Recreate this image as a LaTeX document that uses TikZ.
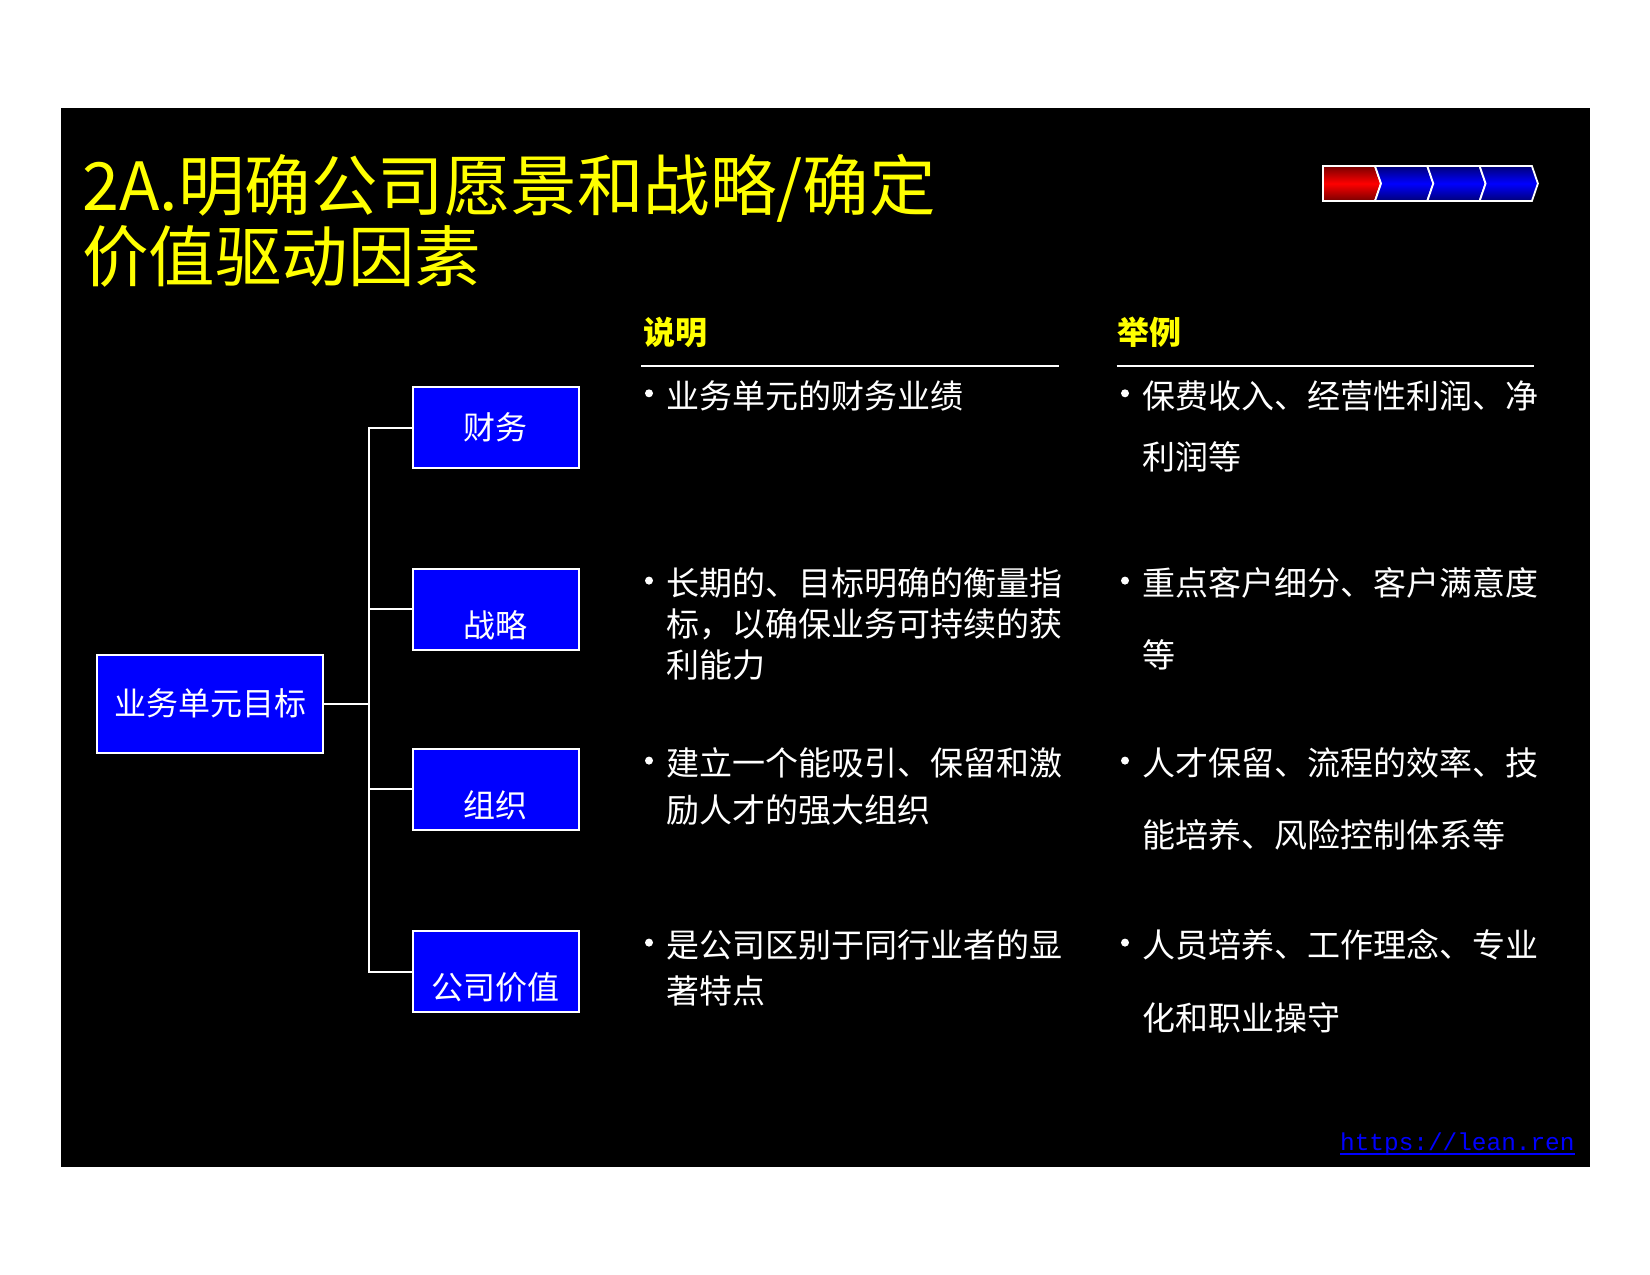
\documentclass[tikz,border=0pt]{standalone}
\usepackage{fontspec}
\newfontfamily\cjk{Noto Sans CJK SC}
\newfontfamily\lmono{Liberation Mono}
\definecolor{pblue}{RGB}{0,0,255}
\definecolor{tyellow}{RGB}{255,255,0}
\definecolor{dred}{RGB}{120,0,0}
\definecolor{dblue}{RGB}{0,0,120}
\begin{document}
\begin{tikzpicture}[x=1pt,y=-1pt,
  every node/.style={inner sep=0pt},
  titletext/.style={font=\cjk\fontsize{66.5}{72}\selectfont, text=tyellow, anchor=west, text height=58.5pt, text depth=8pt},
  headtext/.style={font=\cjk\bfseries\fontsize{32}{38}\selectfont, text=tyellow, anchor=west, text height=28.2pt, text depth=3.8pt},
  bodytext/.style={font=\cjk\fontsize{33}{40}\selectfont, text=white, anchor=west, text height=29pt, text depth=4pt},
  bulletdot/.style={circle, fill=white, minimum size=8pt},
  boxbase/.style={draw=white, line width=2pt, fill=pblue, font=\cjk\fontsize{32}{38}\selectfont, text=white},
  goalbox/.style={boxbase, minimum width=226pt, minimum height=98pt, text height=28.2pt, text depth=3.8pt},
  topbox/.style={boxbase, minimum width=166pt, minimum height=81pt, text height=28.2pt, text depth=3.8pt},
  lowbox/.style={boxbase, minimum width=166pt, minimum height=81pt, text height=60.2pt, text depth=3.8pt},
  conn/.style={draw=white, line width=2pt},
  hrule/.style={draw=white, line width=2pt},
  redseg/.style={draw=white, line width=1.8pt, top color=dred, bottom color=dred, middle color=red},
  blueseg/.style={draw=white, line width=1.8pt, top color=dblue, bottom color=dblue, middle color=pblue},
  linktext/.style={font=\lmono\fontsize{24.4}{28}\selectfont, text=pblue, text depth=4pt}
]
\useasboundingbox (0,0) rectangle (1650,1275);
\fill[black] (61,108) rectangle (1590,1167);

% title
\node[titletext] (t1) at (82,185.7) {2A.明确公司愿景和战略/确定};
\node[titletext] (t2) at (82,256) {价值驱动因素};

% progress chevrons
\shadedraw[redseg] (1323,166) -- (1375,166) -- (1381,183.5) -- (1375,201) -- (1323,201) -- cycle;
\foreach \i in {0,1,2} {
  \pgfmathsetmacro{\a}{1375+52.3*\i}
  \pgfmathsetmacro{\b}{1375+52.3*(\i+1)}
  \shadedraw[blueseg] (\a,166) -- (\b,166) -- (\b+6,183.5) -- (\b,201) -- (\a,201) -- (\a+6,183.5) -- cycle;
}

% tree
\node[goalbox] (goal) at (210,703.5) {业务单元目标};
\node[topbox] (fin) at (495.6,427.5) {财务};
\node[lowbox] (str) at (495.6,609) {战略};
\node[lowbox] (org) at (495.6,789) {组织};
\node[lowbox] (val) at (495.6,971.5) {公司价值};
\draw[conn] (goal.east) -- ++(45,0) coordinate (j);
\draw[conn] (j) |- (fin.west);
\draw[conn] (j) |- (str.west);
\draw[conn] (j) |- (org.west);
\draw[conn] (j) |- (val.west);

% headers
\node[headtext] (hd1) at (643,332.5) {说明};
\node[headtext] (hd2) at (1117.5,332.5) {举例};
\coordinate (r1a) at (641,366);
\coordinate (r1b) at (1058.6,366);
\coordinate (r2a) at (1116.5,366);
\coordinate (r2b) at (1534,366);
\draw[hrule] (r1a) -- (r1b);
\draw[hrule] (r2a) -- (r2b);

% column 1
\node[bulletdot] (b11) at (649,393.3) {};
\node[bodytext] (c1a) at (666,395.7) {业务单元的财务业绩};
\node[bulletdot] (b12) at (649,580.6) {};
\node[bodytext] (c1b) at (666,583) {长期的、目标明确的衡量指};
\node[bodytext] (c1c) at (666,624) {标，以确保业务可持续的获};
\node[bodytext] (c1d) at (666,665) {利能力};
\node[bulletdot] (b13) at (649,760.6) {};
\node[bodytext] (c1e) at (666,763) {建立一个能吸引、保留和激};
\node[bodytext] (c1f) at (666,810) {励人才的强大组织};
\node[bulletdot] (b14) at (649,942.6) {};
\node[bodytext] (c1g) at (666,945) {是公司区别于同行业者的显};
\node[bodytext] (c1h) at (666,991) {著特点};

% column 2
\node[bulletdot] (b21) at (1125,393.3) {};
\node[bodytext] (c2a) at (1142,395.7) {保费收入、经营性利润、净};
\node[bodytext] (c2b) at (1142,456.7) {利润等};
\node[bulletdot] (b22) at (1125,580.6) {};
\node[bodytext] (c2c) at (1142,583) {重点客户细分、客户满意度};
\node[bodytext] (c2d) at (1142,654.5) {等};
\node[bulletdot] (b23) at (1125,760.6) {};
\node[bodytext] (c2e) at (1142,763) {人才保留、流程的效率、技};
\node[bodytext] (c2f) at (1142,834.5) {能培养、风险控制体系等};
\node[bulletdot] (b24) at (1125,942.6) {};
\node[bodytext] (c2g) at (1142,945) {人员培养、工作理念、专业};
\node[bodytext] (c2h) at (1142,1017.6) {化和职业操守};

% link
\node[linktext, anchor=base west] (link) at (1340,1150) {https://lean.ren};
\draw[pblue, line width=1.6pt] (link.south west) -- (link.south east);
\end{tikzpicture}
\end{document}
